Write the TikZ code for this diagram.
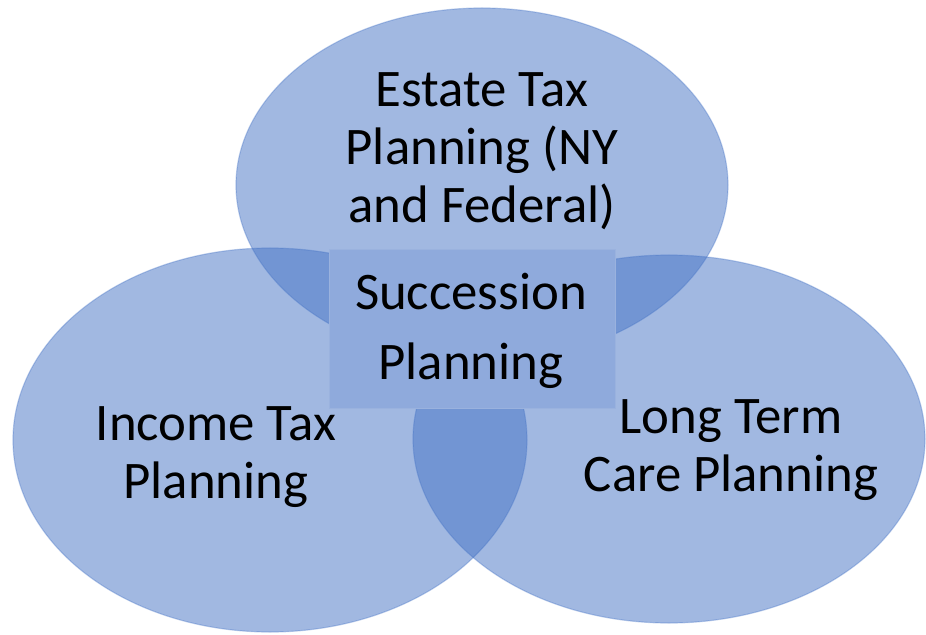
\documentclass[tikz,border=0pt]{standalone}
\usepackage{fontspec}
\setmainfont{Carlito}
\usetikzlibrary{shapes.geometric}
\definecolor{circfill}{HTML}{4472C4}
\definecolor{boxfill}{HTML}{8FAADC}
\definecolor{boxedge}{HTML}{9AB2DE}
\begin{document}
\begin{tikzpicture}[x=1bp,y=-1bp,
  circle set/.style={ellipse, inner sep=0pt, fill=circfill, fill opacity=0.5,
    draw=circfill, draw opacity=0.35, line width=1.2bp},
  label text/.style={font=\fontsize{53}{58}\selectfont, align=center, text=black, inner sep=0pt}]
\useasboundingbox (0,0) rectangle (926,635);
\node[circle set, minimum width=492bp, minimum height=354bp] (estate) at (482,185) {};
\node[circle set, minimum width=514bp, minimum height=384bp] (income) at (270,440) {};
\node[circle set, minimum width=512bp, minimum height=368bp] (care) at (669,439) {};
\node[fill=boxfill, draw=boxedge, line width=0.8bp, minimum width=286bp, minimum height=159bp, inner sep=0pt] (succ) at (472,328.5) {};
\node[label text] (estatetxt) at (482,151) {Estate Tax\\Planning (NY\\and Federal)};
\node[label text, font=\fontsize{53}{70}\selectfont] (succtxt) at (471,331) {Succession\\Planning};
\node[label text] (incometxt) at (216,457) {Income Tax\\Planning};
\node[label text] (caretxt) at (731,450) {Long Term\\Care Planning};
\end{tikzpicture}
\end{document}
